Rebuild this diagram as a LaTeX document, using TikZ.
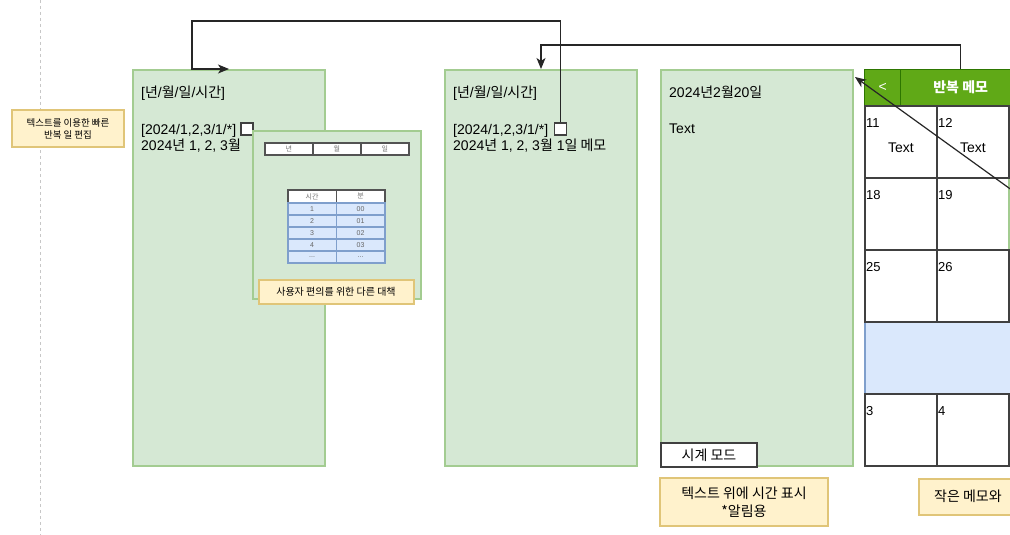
\documentclass[tikz,border=0pt]{standalone}
\usepackage{fontspec}
\setmainfont{Liberation Sans}
\newfontfamily\kr{Noto Sans CJK KR}
\newcommand{\kt}[1]{{\kr #1}}
\usetikzlibrary{positioning,arrows.meta}
\definecolor{panelfill}{HTML}{D5E8D4}
\definecolor{panelline}{HTML}{A3CC91}
\definecolor{memofill}{HTML}{FFF2CC}
\definecolor{memoline}{HTML}{E0C578}
\definecolor{bluefill}{HTML}{DAE8FC}
\definecolor{blueline}{HTML}{7F9FCC}
\definecolor{hdrfill}{HTML}{60A917}
\definecolor{hdrline}{HTML}{2D7600}
\definecolor{gridline}{HTML}{404040}
\begin{document}
\begin{tikzpicture}[x=1pt,y=-1pt,
  panel/.style={draw=panelline, fill=panelfill, line width=2pt, anchor=north west, inner sep=0pt},
  memo/.style={draw=memoline, fill=memofill, line width=2pt, inner sep=0pt, align=center},
  txt/.style={inner sep=0pt, anchor=base west, font=\fontsize{14}{17}\selectfont},
  tick/.style={draw=gridline, fill=white, line width=1.5pt, minimum size=12pt, inner sep=0pt, anchor=north west},
  tinycell/.style={draw=gridline!90, fill=white, line width=1.8pt, inner sep=0pt, anchor=north west, text=black!55, font=\fontsize{7}{8}\selectfont},
  tinyrow/.style={draw=blueline, fill=bluefill, line width=1.6pt, inner sep=0pt, anchor=north west, minimum width=48.5pt, minimum height=12pt, text=black!60, font=\fontsize{7}{8}\selectfont},
  calcell/.style={draw=gridline, fill=white, line width=2pt, minimum width=72pt, minimum height=72pt, inner sep=0pt, anchor=north west},
  hdrcell/.style={draw=hdrline, fill=hdrfill, line width=1.3pt, minimum height=36pt, inner sep=0pt, anchor=north west, text=white, font=\fontsize{14}{17}\selectfont},
  daynum/.style={inner sep=0pt, anchor=base west, font=\fontsize{13}{15}\selectfont},
  link/.style={draw=black!85, line width=1.2pt, -{Stealth[length=11pt,width=9pt,inset=3pt]}}]
\useasboundingbox (0,0) rectangle (1010,535);
\clip (0,0) rectangle (1010,535);
\coordinate (guidetop) at (40,0);
\coordinate (guidebot) at (40,535);
\draw[black!22, line width=1pt, dash pattern=on 3pt off 3pt] (guidetop) -- (guidebot);
\node[memo, minimum width=112pt, minimum height=37pt, font=\kr\fontsize{9.5}{12}\selectfont] (nquick) at (68,128.5) {텍스트를 이용한 빠른\\반복 일 편집};
\node[panel, minimum width=192pt, minimum height=396pt] (p1) at (132,69) {};
\node[txt] (p1fmt) at (141,98) {[\kt{년}/\kt{월}/\kt{일}/\kt{시간}]};
\node[txt] (p1rule) at (141,134) {[2024/1,2,3/1/*]};
\node[txt] (p1desc) at (141,150) {2024\kt{년} 1, 2, 3\kt{월}};
\node[tick] (sq1) at (240,122) {};
\node[panel, minimum width=168pt, minimum height=168pt] (p2) at (252,130) {};
\foreach \t [count=\i] in {년,월,일}
  \node[tinycell, minimum width=48pt, minimum height=12pt] (ymd\i) at (216+48*\i,142) {\kt{\t}};
\node[tinycell, minimum width=48.5pt, minimum height=13pt] (thour) at (287,189) {\kt{시간}};
\node[tinycell, minimum width=48.5pt, minimum height=13pt] (tmin) at (335.5,189) {\kt{분}};
\foreach \a/\b [count=\i] in {1/00,2/01,3/02,4/03}{
  \node[tinyrow] (h\i) at (287,190+12*\i) {\a};
  \node[tinyrow] (m\i) at (335.5,190+12*\i) {\b};
}
\node[tinyrow] (h5) at (287,250) {...};
\node[tinyrow] (m5) at (335.5,250) {...};
\node[memo, minimum width=155pt, minimum height=24pt, font=\kr\fontsize{10}{12}\selectfont] (nother) at (336,291.5) {사용자 편의를 위한 다른 대책};
\node[panel, minimum width=192pt, minimum height=396pt] (p3) at (444,69) {};
\node[txt] (p3fmt) at (453,98) {[\kt{년}/\kt{월}/\kt{일}/\kt{시간}]};
\node[txt] (p3rule) at (453,134) {[2024/1,2,3/1/*]};
\node[txt] (p3desc) at (453,150) {2024\kt{년} 1, 2, 3\kt{월} 1\kt{일 메모}};
\node[tick] (sq3) at (553.5,122) {};
\node[panel, minimum width=192pt, minimum height=396pt] (p4) at (660,69) {};
\node[txt] (p4date) at (669,98) {2024\kt{년}2\kt{월}20\kt{일}};
\node[txt] (p4text) at (669,133) {Text};
\node[draw=gridline, fill=white, line width=2pt, minimum width=96pt, minimum height=24pt, inner sep=0pt, anchor=north west, font=\kr\fontsize{14}{17}\selectfont] (clock) at (660,442) {시계 모드};
\node[memo, minimum width=168pt, minimum height=48pt, font=\kr\fontsize{14}{18}\selectfont] (nclock) at (744,502) {텍스트 위에 시간 표시\\*알림용};
\node[hdrcell, minimum width=36pt] (back) at (864,69) {<};
\node[hdrcell, minimum width=120pt, font=\kr\bfseries\fontsize{14}{17}\selectfont] (hdr) at (900,69) {반복 메모};
\node[draw=blueline, fill=bluefill, line width=1.5pt, minimum width=220pt, minimum height=72pt, inner sep=0pt, anchor=north west] (wk4) at (864,321) {};
\node[calcell] (c18) at (864,177) {};
\node[calcell] (c19) at (936,177) {};
\node[calcell, draw=panelline, fill=panelfill] (c20) at (1008,177) {};
\node[daynum] at ([xshift=2pt,yshift=-22pt]c18.north west) {18};
\node[daynum] at ([xshift=2pt,yshift=-22pt]c19.north west) {19};
\foreach \y/\a/\b/\c in {105/11/12/13,249/25/26/27,393/3/4/5}{
  \node[calcell] (c\a) at (864,\y) {};
  \node[calcell] (c\b) at (936,\y) {};
  \node[calcell] (c\c) at (1008,\y) {};
  \node[daynum] at ([xshift=2pt,yshift=-22pt]c\a.north west) {\a};
  \node[daynum] at ([xshift=2pt,yshift=-22pt]c\b.north west) {\b};
}
\node[txt, anchor=base] (c11text) at ([yshift=-47pt]c11.north) {Text};
\node[txt, anchor=base] (c12text) at ([yshift=-47pt]c12.north) {Text};
\node[memo, minimum width=180pt, minimum height=36pt, anchor=north west] (nsmall) at (918,478) {};
\node[txt, font=\kr\fontsize{14}{17}\selectfont] (nsmalltext) at (934,501) {작은 메모와};
\coordinate (bend1) at (192,21);
\draw[link] (sq3.north) |- (bend1) |- (p1.north);
\draw[link] (hdr.north) -- ++(0,-24) -| (p3.north);
\draw[link] (c20.center) -- ([xshift=1pt,yshift=-8pt]p4.north east);
\end{tikzpicture}
\end{document}
